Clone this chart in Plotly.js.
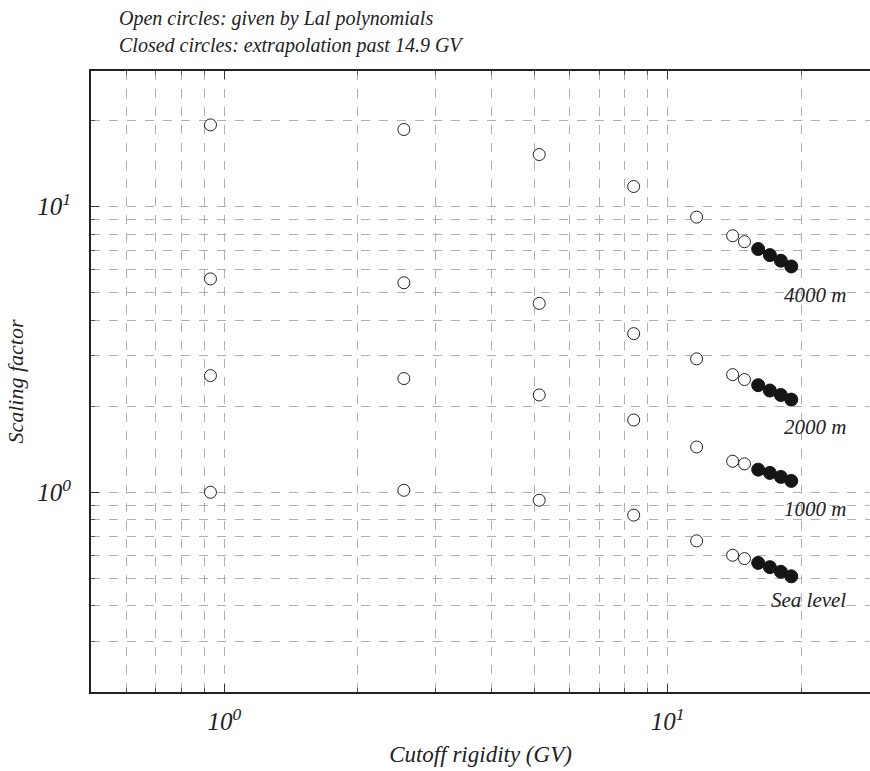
<!DOCTYPE html>
<html>
<head>
<meta charset="utf-8">
<script src="https://cdn.plot.ly/plotly-3.0.1.min.js"></script>
<style>html,body{margin:0;padding:0;background:#fff;overflow:hidden;}</style>
</head>
<body>
<div id="chart" style="width:870px;height:771px;"></div>
<script>
// Cutoff rigidity (GV)
const rigidityLal = [0.93, 2.54, 5.13, 8.38, 11.62, 14.01, 14.9];
const rigidityExtrap = [16, 17, 18, 19];

// Scaling factors
const sf4000Lal = [19.3, 18.6, 15.2, 11.75, 9.18, 7.90, 7.53];
const sf4000Ext = [7.10, 6.76, 6.46, 6.17];
const sf2000Lal = [5.58, 5.41, 4.58, 3.59, 2.93, 2.58, 2.48];
const sf2000Ext = [2.37, 2.27, 2.19, 2.11];
const sf1000Lal = [2.56, 2.50, 2.19, 1.79, 1.44, 1.284, 1.257];
const sf1000Ext = [1.20, 1.169, 1.132, 1.096];
const sfSeaLal = [1.0, 1.016, 0.938, 0.832, 0.676, 0.602, 0.586];
const sfSeaExt = [0.566, 0.547, 0.527, 0.508];

const altitudeLabels = ['4000 m', '2000 m', '1000 m', 'Sea level'];
const noteLines = ['Open circles: given by Lal polynomials', 'Closed circles: extrapolation past 14.9 GV'];

const xMajor = [1, 10];
const xMajorText = ['10<sup>0</sup>', '10<sup>1</sup>'];
const xMinor = [0.6, 0.7, 0.8, 0.9, 2, 3, 4, 5, 6, 7, 8, 9, 20];
const yMajor = [1, 10];
const yMajorText = ['10<sup>0</sup>', '10<sup>1</sup>'];
const yMinor = [0.3, 0.4, 0.5, 0.6, 0.7, 0.8, 0.9, 2, 3, 4, 5, 6, 7, 8, 9, 20];

const lalSeries = [sf4000Lal, sf2000Lal, sf1000Lal, sfSeaLal];
const extSeries = [sf4000Ext, sf2000Ext, sf1000Ext, sfSeaExt];

const FONT = '"Liberation Serif", "Times New Roman", serif';
const gridCol = '#b0b0b0';

const traces = [];
lalSeries.forEach((ys, i) => {
  traces.push({
    x: rigidityLal, y: ys, type: 'scatter', mode: 'markers',
    name: altitudeLabels[i] + ' (Lal)', showlegend: false, cliponaxis: false,
    marker: {symbol: 'circle', size: 12, color: '#ffffff', line: {color: '#222222', width: 1}}
  });
});
extSeries.forEach((ys, i) => {
  traces.push({
    x: rigidityExtrap, y: ys, type: 'scatter', mode: 'markers',
    name: altitudeLabels[i] + ' (extrap.)', showlegend: false, cliponaxis: false,
    marker: {symbol: 'circle', size: 13, color: '#151515', line: {color: '#151515', width: 1}}
  });
});

const labelY = [0.639, 0.427, 0.295, 0.148];
const annotations = altitudeLabels.map((t, i) => ({
  text: t, xref: 'paper', yref: 'paper', x: 0.972, y: labelY[i],
  xanchor: 'right', yanchor: 'middle', showarrow: false,
  font: {family: FONT, size: 21, color: '#222', style: 'italic'}
}));
const noteY = [1 + (71 - 18) / 621, 1 + (71 - 45) / 621];
noteLines.forEach((t, i) => annotations.push({
  text: t, xref: 'paper', yref: 'paper', x: 0.034, y: noteY[i],
  xanchor: 'left', yanchor: 'middle', align: 'left', showarrow: false,
  font: {family: FONT, size: 20, color: '#222', style: 'italic'}
}));

const layout = {
  width: 870, height: 771,
  margin: {l: 91, r: 0, t: 71, b: 79},
  paper_bgcolor: '#fff', plot_bgcolor: '#fff',
  font: {family: FONT, color: '#222'},
  showlegend: false,
  xaxis: {
    type: 'log', range: [Math.log10(0.5), Math.log10(28.6)],
    tickmode: 'array', tickvals: xMajor, ticktext: xMajorText,
    ticks: 'inside', ticklen: 8, tickcolor: '#333', tickwidth: 1,
    showgrid: true, gridcolor: gridCol, griddash: 'dash', gridwidth: 1,
    showline: true, linecolor: '#222', linewidth: 2, mirror: 'allticks',
    zeroline: false, ticklabelstandoff: 6,
    tickfont: {family: FONT, size: 25, style: 'italic', color: '#222'},
    title: {text: 'Cutoff rigidity (GV)', standoff: 12, font: {family: FONT, size: 23, style: 'italic', color: '#222'}},
    minor: {tickmode: 'array', tickvals: xMinor, ticks: 'inside', ticklen: 4, tickcolor: '#555',
            showgrid: true, gridcolor: gridCol, griddash: 'dash', gridwidth: 1}
  },
  yaxis: {
    type: 'log', range: [Math.log10(0.2), Math.log10(29.8)],
    tickmode: 'array', tickvals: yMajor, ticktext: yMajorText,
    ticks: 'inside', ticklen: 8, tickcolor: '#333', tickwidth: 1,
    showgrid: true, gridcolor: gridCol, griddash: 'dash', gridwidth: 1,
    showline: true, linecolor: '#222', linewidth: 2, mirror: false,
    zeroline: false, ticklabelstandoff: 13,
    tickfont: {family: FONT, size: 25, style: 'italic', color: '#222'},
    title: {text: 'Scaling factor', standoff: 8, font: {family: FONT, size: 22, style: 'italic', color: '#222'}},
    minor: {tickmode: 'array', tickvals: yMinor, ticks: 'inside', ticklen: 4, tickcolor: '#555',
            showgrid: true, gridcolor: gridCol, griddash: 'dash', gridwidth: 1}
  },
  annotations: annotations
};

Plotly.newPlot('chart', traces, layout, {displayModeBar: false, staticPlot: true});
</script>
</body>
</html>
